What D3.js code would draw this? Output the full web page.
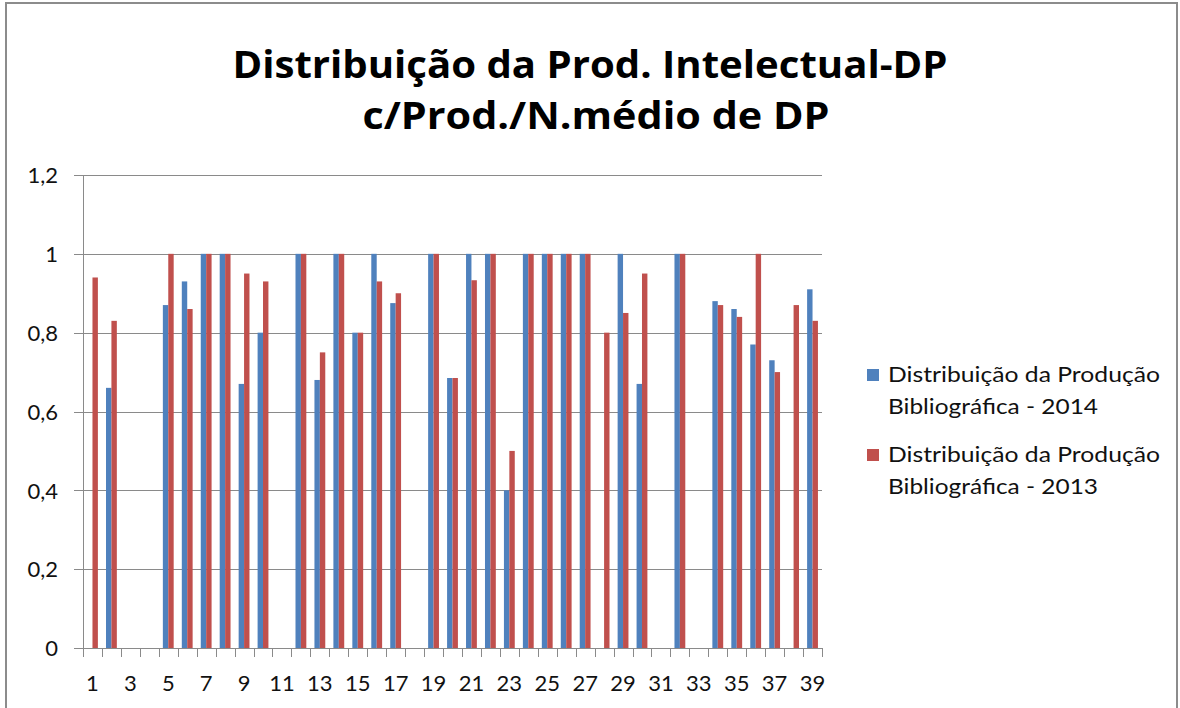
<!DOCTYPE html>
<html>
<head>
<meta charset="utf-8">
<script src="https://cdn.jsdelivr.net/npm/d3@7"></script>
<style>
  html, body { margin: 0; padding: 0; background: #fff; }
  svg { display: block; }
  text { font-family: "Open Sans", Lato, sans-serif; }
  .lbl { font-family: Lato, "Open Sans", sans-serif; font-size: 22px; fill: #111; }
</style>
</head>
<body>
<div id="chart"></div>
<script>
// categorias 1..39
const categorias = d3.range(1, 40).map(String)

// Distribuição da Produção Bibliográfica - 2014
const serie2014 = [
  0, 0.66, 0, 0, 0.87, 0.93, 1, 1, 0.67, 0.80,
  0, 1, 0.68, 1, 0.80, 1, 0.875, 0, 1, 0.685,
  1, 1, 0.40, 1, 1, 1, 1, 0, 1, 0.67,
  0, 1, 0, 0.88, 0.86, 0.77, 0.73, 0, 0.91
]
// Distribuição da Produção Bibliográfica - 2013
const serie2013 = [
  0.94, 0.83, 0, 0, 1, 0.86, 1, 1, 0.95, 0.93,
  0, 1, 0.75, 1, 0.80, 0.93, 0.90, 0, 1, 0.685,
  0.933, 1, 0.50, 1, 1, 1, 1, 0.80, 0.85, 0.95,
  0, 1, 0, 0.87, 0.84, 1, 0.70, 0.87, 0.83
]
const nomesSeries = ['2014', '2013']
const legendas = [
  ['Distribuição da Produção', 'Bibliográfica - 2014'],
  ['Distribuição da Produção', 'Bibliográfica - 2013']
]
const ticksY = [0, 0.2, 0.4, 0.6, 0.8, 1, 1.2]
const titulo = ['Distribuição da Prod. Intelectual-DP', 'c/Prod./N.médio de DP']

const cores = { '2014': '#4F81BD', '2013': '#C0504D' }

const W = 1180, H = 708
const plot = { left: 83, right: 822, top: 175, bottom: 648 }

const svg = d3.select('#chart').append('svg')
    .attr('width', W).attr('height', H)

// moldura
svg.append('rect')
    .attr('x', 6).attr('y', 3).attr('width', W - 9).attr('height', H + 10)
    .attr('fill', 'none').attr('stroke', '#8c8c8c').attr('stroke-width', 2)

// titulo
const tl = svg.append('g')
tl.append('text').attr('x', 590).attr('y', 78)
    .attr('text-anchor', 'middle').attr('font-size', 37).attr('font-weight', 'bold')
    .attr('textLength', 715).attr('lengthAdjust', 'spacingAndGlyphs')
    .text(titulo[0])
tl.append('text').attr('x', 596).attr('y', 129)
    .attr('text-anchor', 'middle').attr('font-size', 37).attr('font-weight', 'bold')
    .attr('textLength', 467).attr('lengthAdjust', 'spacingAndGlyphs')
    .text(titulo[1])

// escalas (gap 150% como no excel)
const gap = 1.5 / 3.5
const x0 = d3.scaleBand().domain(categorias).range([plot.left, plot.right])
    .paddingInner(gap).paddingOuter(gap / 2)
const x1 = d3.scaleBand().domain(nomesSeries).range([0, x0.bandwidth()])
const y = d3.scaleLinear().domain([0, 1.2]).range([plot.bottom, plot.top])

const ptBR = d3.formatLocale({ decimal: ',', thousands: '.', grouping: [3], currency: ['R$', ''] })
const fmt = ptBR.format('~g')

// grade horizontal
svg.append('g')
    .selectAll('line').data(ticksY).join('line')
    .attr('x1', plot.left - 9).attr('x2', plot.right)
    .attr('y1', d => Math.round(y(d)) + 0.5).attr('y2', d => Math.round(y(d)) + 0.5)
    .attr('stroke', '#8a8a8a').attr('stroke-width', 1)

// eixo y
svg.append('line')
    .attr('x1', plot.left + 0.5).attr('x2', plot.left + 0.5)
    .attr('y1', plot.top).attr('y2', plot.bottom)
    .attr('stroke', '#8a8a8a')
const yAxis = svg.append('g').attr('transform', `translate(${plot.left},0)`)
    .call(d3.axisLeft(y).tickValues(ticksY).tickFormat(fmt).tickSize(0).tickPadding(25))
yAxis.select('.domain').remove()
yAxis.selectAll('text').attr('class', 'lbl').attr('font-size', null).attr('font-family', null)
    .attr('dy', '0.35em')

// barras
const dados = categorias.map((c, i) => ({ cat: c, valores: [
  { serie: '2014', v: serie2014[i] },
  { serie: '2013', v: serie2013[i] }
] }))

svg.append('g').selectAll('g').data(dados).join('g')
    .attr('transform', d => `translate(${x0(d.cat)},0)`)
  .selectAll('rect').data(d => d.valores.filter(e => e.v > 0)).join('rect')
    .attr('x', d => x1(d.serie))
    .attr('width', x1.bandwidth())
    .attr('y', d => y(d.v))
    .attr('height', d => y(0) - y(d.v))
    .attr('fill', d => cores[d.serie])

// eixo x
const passo = x0.step()
const fronteiras = d3.range(0, categorias.length + 1).map(i => plot.left + i * passo)
svg.append('line')
    .attr('x1', plot.left - 9).attr('x2', plot.right)
    .attr('y1', plot.bottom + 0.5).attr('y2', plot.bottom + 0.5)
    .attr('stroke', '#8a8a8a')
svg.append('g').selectAll('line').data(fronteiras).join('line')
    .attr('x1', d => Math.round(d) + 0.5).attr('x2', d => Math.round(d) + 0.5)
    .attr('y1', plot.bottom).attr('y2', plot.bottom + 9)
    .attr('stroke', '#8a8a8a')
svg.append('g').selectAll('text')
    .data(categorias.filter((c, i) => i % 2 === 0)).join('text')
    .attr('class', 'lbl')
    .attr('x', d => x0(d) + x0.bandwidth() / 2)
    .attr('y', plot.bottom + 43)
    .attr('text-anchor', 'middle')
    .text(d => d)

// legenda
const leg = svg.append('g').selectAll('g').data(nomesSeries).join('g')
    .attr('transform', (d, i) => `translate(867,${367 + i * 80})`)
leg.append('rect').attr('width', 12).attr('height', 12).attr('y', 2)
    .attr('fill', d => cores[d])
leg.each(function (d, i) {
  const g = d3.select(this)
  legendas[i].forEach((linha, j) => {
    g.append('text').attr('class', 'lbl').attr('font-size', 22)
        .attr('x', 21).attr('y', 15 + j * 32)
        .attr('textLength', j === 0 ? 272 : 210).attr('lengthAdjust', 'spacingAndGlyphs')
        .text(linha)
  })
})
</script>
</body>
</html>
